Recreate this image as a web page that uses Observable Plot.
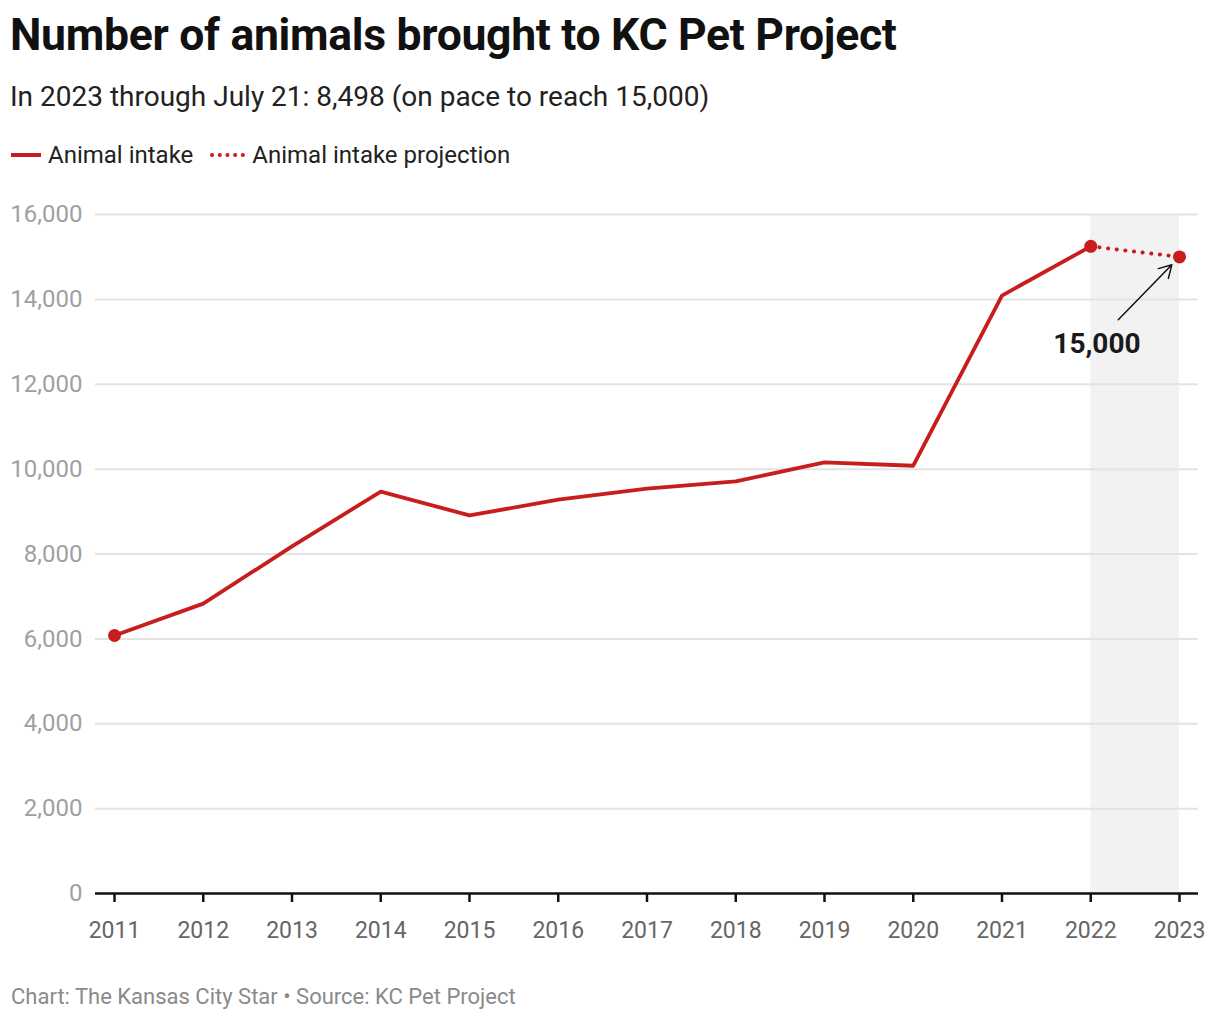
<!DOCTYPE html>
<html>
<head>
<meta charset="utf-8">
<script src="https://cdn.jsdelivr.net/npm/d3@7"></script>
<script src="https://cdn.jsdelivr.net/npm/@observablehq/plot@0.6"></script>
<style>
  html, body { margin: 0; padding: 0; background: #fff; }
  body { width: 1220px; height: 1020px; position: relative; font-family: Roboto, "Noto Sans", sans-serif; overflow: hidden; }
  .title { position: absolute; left: 10px; top: 9px; font-size: 44.5px; font-weight: 700; color: #111; letter-spacing: -0.3px; }
  .subtitle { position: absolute; left: 10px; top: 80px; font-size: 28px; color: #222; }
  .legend { position: absolute; left: 11px; top: 141px; font-size: 24px; color: #222; display: flex; align-items: center; }
  .legend .item { display: flex; align-items: center; margin-right: 16px; }
  .legend svg { margin-right: 7px; }
  .caption { position: absolute; left: 11px; top: 984px; font-size: 22px; color: #8a8a8a; }
  #chart { position: absolute; left: 0; top: 190px; }
</style>
</head>
<body>
<div class="title">Number of animals brought to KC Pet Project</div>
<div class="subtitle">In 2023 through July 21: 8,498 (on pace to reach 15,000)</div>
<div class="legend">
  <div class="item"><svg width="30" height="10"><line x1="0" y1="5" x2="30" y2="5" stroke="#c71e1d" stroke-width="4"/></svg>Animal intake</div>
  <div class="item"><svg width="36" height="10"><line x1="3" y1="5" x2="36" y2="5" stroke="#c71e1d" stroke-width="4" stroke-dasharray="0.1 7.6" stroke-linecap="round"/></svg>Animal intake projection</div>
</div>
<div id="chart"></div>
<div class="caption">Chart: The Kansas City Star • Source: KC Pet Project</div>
<script>
const years = [2011, 2012, 2013, 2014, 2015, 2016, 2017, 2018, 2019, 2020, 2021, 2022];
const intake = [6080, 6830, 8180, 9470, 8910, 9280, 9540, 9710, 10160, 10080, 14090, 15250];
const projectionYears = [2022, 2023];
const projection = [15250, 15000];
const highlightYears = [2011, 2022, 2023];
const highlightValues = [6080, 15250, 15000];
const yTicks = [0, 2000, 4000, 6000, 8000, 10000, 12000, 14000, 16000];
const xTicks = years.concat([2023]);
const shade = [{x1: 2022, x2: 2023}];
const annotation = [{label: "15,000", tx: 2022.07, ty: 12940, ax: 2022.31, ay: 13520, bx: 2023, by: 15000}];

const red = "#c71e1d";
const actual = years.map((y, i) => ({year: y, value: intake[i]}));
const proj = projectionYears.map((y, i) => ({year: y, value: projection[i]}));
const dots = highlightYears.map((y, i) => ({year: y, value: highlightValues[i]}));

const chart = Plot.plot({
  width: 1220,
  height: 760,
  marginTop: 24,
  marginBottom: 57,
  marginLeft: 114,
  marginRight: 41,
  style: {fontFamily: "Roboto, sans-serif", fontSize: "20px", background: "transparent"},
  x: {domain: [2011, 2023], label: null},
  y: {domain: [0, 16000], label: null},
  marks: [
    Plot.rect(shade, {x1: "x1", x2: "x2", y1: 0, y2: 16000, fill: "#f2f2f2"}),
    Plot.ruleY(yTicks.filter(d => d > 0), {stroke: "#e3e3e3", strokeWidth: 2, insetLeft: -19, insetRight: -19}),
    Plot.axisY({ticks: yTicks, tickSize: 0, tickPadding: 32, tickFormat: d3.format(","), fill: "#a0a0a0", fontSize: 24}),
    Plot.axisX({ticks: xTicks, tickSize: 9, tickPadding: 19, tickFormat: d => String(d), fill: "#666", stroke: "#111", strokeWidth: 2.5, fontSize: 23}),
    Plot.ruleY([0], {stroke: "#111", strokeWidth: 2.5, insetLeft: -19, insetRight: -19}),
    Plot.line(actual, {x: "year", y: "value", stroke: red, strokeWidth: 3.8}),
    Plot.line(proj, {x: "year", y: "value", stroke: red, strokeWidth: 4, strokeDasharray: "0.1 8.6", strokeLinecap: "round"}),
    Plot.dot(dots, {x: "year", y: "value", r: 6.5, fill: red}),
    Plot.arrow(annotation, {x1: "ax", y1: "ay", x2: "bx", y2: "by", stroke: "#111", strokeWidth: 1.5, insetEnd: 11, headLength: 14, bend: 0}),
    Plot.text(annotation, {x: "tx", y: "ty", text: "label", fontSize: 28, fontWeight: 700, fill: "#1a1a1a"})
  ]
});
document.getElementById("chart").appendChild(chart);
</script>
</body>
</html>
